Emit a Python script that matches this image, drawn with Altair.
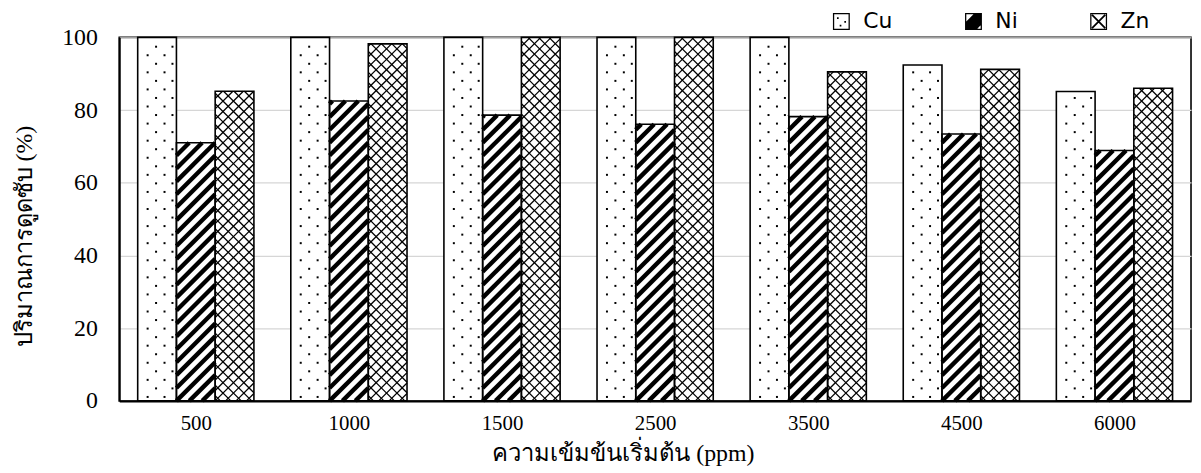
import json
import math
import altair as alt
import pandas as pd

# ---- data ----
categories = ["500", "1000", "1500", "2500", "3500", "4500", "6000"]
metals = ["Cu", "Ni", "Zn"]
cu_values = [100, 100, 100, 100, 100, 92.4, 85.1]
ni_values = [71.0, 82.5, 78.6, 76.1, 78.2, 73.4, 68.9]
zn_values = [85.2, 98.2, 100, 100, 90.5, 91.2, 86.0]
y_ticks = [0, 20, 40, 60, 80, 100]

x_title = "ความเข้มข้นเริ่มต้น (ppm)"
y_title = "ปริมาณการดูดซับ (%)"

SERIF = "Liberation Serif"

# ---- layout ----
W, H = 1079, 366
KX = W / len(categories)      # px per x unit
KY = H / 100.0                # px per y unit
BPX = 39.0                    # bar width in px
BW = BPX / KX
OFF = (1 - 3 * BW) / 2

rows = []
for i, c in enumerate(categories):
    for j, (m, vals) in enumerate(zip(metals, [cu_values, ni_values, zn_values])):
        rows.append({"cat": c, "idx": i, "metal": m, "j": j, "v": vals[i]})
df = pd.DataFrame(rows)

xscale = alt.Scale(domain=[0, len(categories)], nice=False, zero=False)
yscale = alt.Scale(domain=[0, 100], nice=False, zero=False)

label_expr = json.dumps(categories) + "[floor(datum.value)]"
xaxis = alt.Axis(
    values=[i + 0.5 for i in range(len(categories))], labelExpr=label_expr,
    grid=False, ticks=False, tickSize=0, domainColor="black", domainWidth=2,
    labelFont=SERIF, labelFontSize=21, labelColor="black", labelPadding=12,
    title=x_title, titleFont=SERIF, titleFontSize=24, titleFontWeight="normal",
    titleColor="black", titleX=507, titleY=53, titleBaseline="middle", titleAnchor="middle",
)
yaxis = alt.Axis(
    values=y_ticks, grid=True, gridColor="#d6d6d6", gridWidth=1.2,
    ticks=False, tickSize=0, domainColor="black", domainWidth=2,
    labelFont=SERIF, labelFontSize=24, labelColor="black", labelPadding=22,
    title=y_title, titleFont=SERIF, titleFontSize=24, titleFontWeight="normal",
    titleColor="black", titleX=-95, titleY=200, titleBaseline="middle", titleAnchor="middle",
)


def X(f):
    return alt.X(f"{f}:Q", scale=xscale, axis=xaxis)


def Y(f):
    return alt.Y(f"{f}:Q", scale=yscale, axis=yaxis)


base = alt.Chart(df).transform_calculate(
    x0=f"datum.idx + {OFF} + datum.j * {BW}",
    x1=f"datum.idx + {OFF} + (datum.j + 1) * {BW}",
    xc=f"datum.idx + {OFF} + (datum.j + 0.5) * {BW}",
    zero="0",
    hid="-30",
)

bars_fill = base.mark_rect(fill="white", strokeWidth=0).encode(
    x=X("x0"), x2="x1:Q", y=Y("v"), y2="zero:Q"
)

# Cu: dotted texture
DY = 8.6
dots = base.transform_filter("datum.metal == 'Cu'").transform_calculate(
    rws=f"sequence(0, floor((datum.v * {KY} - 6) / {DY}) + 1)"
).transform_flatten(["rws"], as_=["r"]).transform_calculate(
    cols="datum.r % 2 == 0 ? [10, 27] : [18.5, 35]"
).transform_flatten(["cols"], as_=["c"]).transform_calculate(
    px=f"datum.x0 + datum.c / {KX}",
    py=f"(4 + datum.r * {DY}) / {KY}",
).mark_square(size=4, color="black", opacity=1).encode(x=X("px"), y=Y("py"))


def hatch(metal, period, sw, slope):
    hb = f"(datum.v * {KY})"
    if slope > 0:
        cs = f"sequence({-math.ceil(BPX / period) * period}, {hb}, {period})"
        us = "max(0, -datum.c)"
        ue = f"min({BPX}, {hb} - datum.c)"
        ya = "(datum.c + datum.us)"
        yb = "(datum.c + datum.ue)"
    else:
        cs = f"sequence({period / 2}, {hb} + {BPX}, {period})"
        us = f"max(0, datum.c - {hb})"
        ue = f"min({BPX}, datum.c)"
        ya = "(datum.c - datum.us)"
        yb = "(datum.c - datum.ue)"
    return base.transform_filter(f"datum.metal == '{metal}'").transform_calculate(
        cs=cs
    ).transform_flatten(["cs"], as_=["c"]).transform_calculate(
        us=us, ue=ue
    ).transform_filter("datum.us < datum.ue").transform_calculate(
        xa=f"datum.x0 + datum.us / {KX}",
        xb=f"datum.x0 + datum.ue / {KX}",
        ya=f"{ya} / {KY}",
        yb=f"{yb} / {KY}",
    ).mark_rule(color="black", strokeWidth=sw, strokeCap="butt").encode(
        x=X("xa"), x2="xb:Q", y=Y("ya"), y2="yb:Q"
    )


ni_hatch = hatch("Ni", 13.0, 4.4, 1)
zn_hatch1 = hatch("Zn", 10.5, 1.3, 1)
zn_hatch2 = hatch("Zn", 10.5, 1.3, -1)

outlines = base.mark_rect(fillOpacity=0, stroke="black", strokeWidth=1.6).encode(
    x=X("x0"), x2="x1:Q", y=Y("v"), y2="zero:Q"
)

# legend symbols (custom filled paths)
ring = "M-1,-1H1V1H-1Z M-0.85,-0.85V0.85H0.85V-0.85Z"
sq = lambda cx, cy, s=0.1: f"M{cx-s},{cy-s}H{cx+s}V{cy+s}H{cx-s}Z"
path_cu = ring + " " + sq(-0.42, -0.4) + " " + sq(0.45, 0.05) + " " + sq(-0.1, 0.5)
path_ni = ring + " M-0.85,0L0,-0.85L0.85,-0.85L0.85,0.45L0.45,0.85L-0.85,0.85Z"
path_zn = (ring + " M-0.85,-0.7L-0.7,-0.85L0.85,0.7L0.7,0.85Z"
           " M0.7,-0.85L0.85,-0.7L-0.7,0.85L-0.85,0.7Z")

legend = alt.Legend(
    orient="none", legendX=716, legendY=-27, direction="horizontal", columns=3,
    title=None, symbolSize=289, symbolStrokeWidth=0, symbolFillColor="black",
    labelFont="DejaVu Sans", labelFontSize=22, labelColor="black", labelOffset=11,
    columnPadding=70, padding=0,
)
legend_layer = base.mark_point(filled=True, size=289, opacity=1, color="black", clip=True).encode(
    x=X("xc"), y=Y("hid"),
    shape=alt.Shape("metal:N", scale=alt.Scale(domain=metals, range=[path_cu, path_ni, path_zn]),
                    legend=legend),
)

chart = alt.layer(
    bars_fill, dots, ni_hatch, zn_hatch1, zn_hatch2, outlines, legend_layer
).properties(
    width=W, height=H,
    padding={"left": 112, "top": 28, "right": 2, "bottom": 70},
    autosize=alt.AutoSizeParams(type="none"),
).configure_view(
    stroke="black", strokeWidth=1.6
).configure_axis(
    labelFont=SERIF, titleFont=SERIF
)

chart.save("out.html", embed_options={"renderer": "svg", "actions": False})
